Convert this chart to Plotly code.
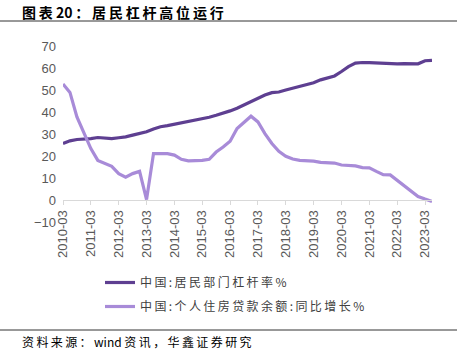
import plotly.graph_objects as go

quarters = [f"{y}-{m:02d}" for y in range(2010, 2024) for m in (3, 6, 9, 12)][:54]

leverage = [25.7, 26.9, 27.5, 27.6, 27.9, 28.4, 28.3, 27.9, 28.3, 28.7, 29.5, 30.1,
            31.0, 32.3, 33.3, 33.8, 34.4, 35.3, 35.9, 36.2, 36.8, 37.6, 38.5, 39.4,
            40.5, 41.7, 43.3, 44.7, 46.4, 47.7, 48.8, 49.1, 50.0, 50.8, 51.7, 52.3,
            53.3, 54.6, 55.5, 56.4, 58.4, 60.6, 62.2, 62.5, 62.4, 62.2, 62.0, 61.9,
            61.9, 62.0, 62.0, 61.9, 63.3, 63.5]

mortgage_yoy = [52.7, 48.9, 37.8, 30.5, 23.4, 18.0, 16.5, 15.3, 12.0, 10.4, 12.0, 13.0,
                0.2, 21.1, 21.1, 21.1, 20.4, 18.5, 17.8, 17.8, 18.0, 18.5, 21.8, 24.1,
                26.7, 32.5, 35.1, 38.1, 35.5, 30.2, 25.7, 22.1, 19.9, 18.6, 18.0, 17.9,
                17.7, 17.1, 16.9, 16.8, 15.9, 15.6, 15.5, 14.7, 14.6, 13.0, 11.5, 11.4,
                8.9, 6.5, 4.3, 1.6, 0.4, -0.7]

names = ["中国:居民部门杠杆率 %", "中国:个人住房贷款余额:同比增长 %"]
colors = ["#5E3F91", "#A88BD8"]
tick_labels = [q for q in quarters if q.endswith("-03")]
title_text = "图表 20：居民杠杆高位运行"
source_text = "资料来源：wind 资讯，华鑫证券研究"


def spaced(s, sp="\u2009"):
    out = []
    for i, ch in enumerate(s):
        out.append("\u00a0" if ch == " " else ch)
        if i < len(s) - 1:
            nxt = s[i + 1]
            if (ord(ch) > 0x2E80 or ord(nxt) > 0x2E80) and ch != " " and nxt != " ":
                out.append(sp)
    return "".join(out)


W, H = 457, 354
L, R, T, B = 63, 25, 46, 132
pw, ph = W - L - R, H - T - B


def xp(px):
    return (px - L) / pw


def yp(py):
    return (H - B - py) / ph


fig = go.Figure()
for i, (vals, nm, col) in enumerate(zip([leverage, mortgage_yoy], names, colors)):
    fig.add_trace(go.Scatter(x=quarters, y=vals, mode="lines", name=spaced(nm),
                             legendgroup=f"g{i}",
                             line=dict(color=col, width=3.2)))

ymin, ymax = -10, 70
fig.update_layout(
    width=W, height=H,
    margin=dict(l=L, r=R, t=T, b=B),
    plot_bgcolor="white", paper_bgcolor="white",
    font=dict(family="Liberation Sans, Arial, sans-serif", color="#595959", size=12),
    xaxis=dict(type="category", range=[0, len(quarters) - 1],
               tickmode="array", tickvals=tick_labels, ticktext=tick_labels,
               tickangle=-90, showgrid=False, showline=True, linecolor="#D9D9D9",
               linewidth=1, ticks="outside", ticklen=4, tickcolor="#D9D9D9",
               anchor="free", position=(0 - ymin) / (ymax - ymin),
               tickfont=dict(size=13, color="#595959"), zeroline=False),
    yaxis=dict(range=[ymin, ymax], dtick=10, showgrid=False, zeroline=False,
               showline=False, ticks="", ticklabelstandoff=6,
               tickfont=dict(size=13, color="#595959"), domain=[0, 1]),
    showlegend=True,
    legend=dict(x=xp(100), y=yp(268), xanchor="left", yanchor="top",
                bgcolor="rgba(0,0,0,0)", tracegroupgap=5, itemwidth=30,
                font=dict(family="Noto Sans CJK SC", size=12, color="#404040")),
)

fig.add_annotation(text="<b>" + spaced(title_text) + "</b>", xref="paper", yref="paper",
                   x=xp(20), y=yp(12), xanchor="left", yanchor="middle", showarrow=False,
                   font=dict(family="Noto Sans CJK SC", size=14, color="#000000"))
fig.add_annotation(text=spaced(source_text), xref="paper", yref="paper",
                   x=xp(20), y=yp(341), xanchor="left", yanchor="middle", showarrow=False,
                   font=dict(family="Noto Sans CJK SC", size=12, color="#000000"))
fig.add_shape(type="line", xref="paper", yref="paper", x0=xp(0), x1=xp(W),
              y0=yp(21), y1=yp(21), line=dict(color="#333333", width=1))
fig.add_shape(type="line", xref="paper", yref="paper", x0=xp(0), x1=xp(W),
              y0=yp(330), y1=yp(330), line=dict(color="#333333", width=1))

fig.write_html("out.html")
